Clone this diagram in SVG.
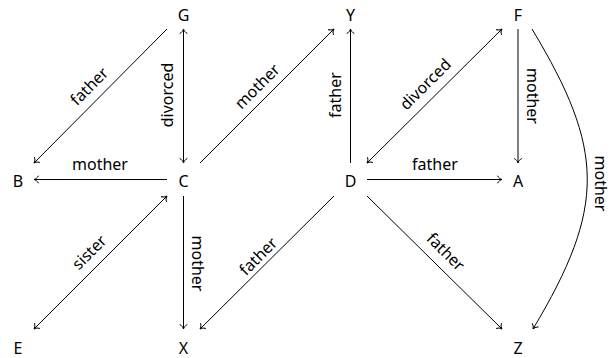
<svg xmlns="http://www.w3.org/2000/svg" width="614" height="358" viewBox="0 0 614 358">
<defs>
<style>
.n{font-family:"Noto Sans","DejaVu Sans",sans-serif;font-size:16px;fill:#000;text-anchor:middle;dominant-baseline:central}
.l{font-family:"Noto Sans","DejaVu Sans",sans-serif;font-size:16px;fill:#000;text-anchor:middle;dominant-baseline:central}
.e{fill:none;stroke:#000;stroke-width:1}
</style>
<marker id="arr" viewBox="-6 -6 12 12" markerWidth="12" markerHeight="12" refX="0" refY="0" markerUnits="userSpaceOnUse" orient="auto-start-reverse" overflow="visible">
<path d="M-4.5,-3.8 C-3.6,-1.6 -1.2,-0.3 0,0 C-1.2,0.3 -3.6,1.6 -4.5,3.8" fill="none" stroke="#000" stroke-width="1"/>
</marker>
</defs>
<g id="nodes">
<g id="G"><text class="n" x="183.5" y="14.5">G</text></g>
<g id="Y"><text class="n" x="350.5" y="14.5">Y</text></g>
<g id="F"><text class="n" x="518" y="14.5">F</text></g>
<g id="B"><text class="n" x="18" y="181">B</text></g>
<g id="C"><text class="n" x="183.5" y="181">C</text></g>
<g id="D"><text class="n" x="350.5" y="181">D</text></g>
<g id="A"><text class="n" x="518" y="181">A</text></g>
<g id="E"><text class="n" x="18" y="347.5">E</text></g>
<g id="X"><text class="n" x="183.5" y="347.5">X</text></g>
<g id="Z"><text class="n" x="518" y="347.5">Z</text></g>
</g>
<g id="connectors">
<path class="e" d="M167,29 L34,163" marker-end="url(#arr)"/>
<text class="l" transform="translate(89,86) rotate(-45)">father</text>
<path class="e" d="M183.5,29 L183.5,163" marker-start="url(#arr)" marker-end="url(#arr)"/>
<text class="l" transform="translate(167,95) rotate(-90)">divorced</text>
<path class="e" d="M167,179.5 L34,179.5" marker-end="url(#arr)"/>
<text class="l" x="100" y="164">mother</text>
<path class="e" d="M200,163 L334,29" marker-end="url(#arr)"/>
<text class="l" transform="translate(257,86) rotate(-45)">mother</text>
<path class="e" d="M350.5,163 L350.5,29" marker-end="url(#arr)"/>
<text class="l" transform="translate(335,95) rotate(-90)">father</text>
<path class="e" d="M367,163 L502,29" marker-start="url(#arr)" marker-end="url(#arr)"/>
<text class="l" transform="translate(425,84) rotate(-45)">divorced</text>
<path class="e" d="M518,29 L518,163" marker-end="url(#arr)"/>
<text class="l" transform="translate(532.5,96) rotate(90)">mother</text>
<path class="e" d="M367,179.5 L502,179.5" marker-end="url(#arr)"/>
<text class="l" x="435" y="163.5">father</text>
<path class="e" d="M532,29 C605,150 606,207 533,329" marker-end="url(#arr)"/>
<text class="l" transform="translate(601,183.5) rotate(90)">mother</text>
<path class="e" d="M167,196 L34,329" marker-start="url(#arr)" marker-end="url(#arr)"/>
<text class="l" transform="translate(89,252) rotate(-45)">sister</text>
<path class="e" d="M183.5,196 L183.5,329" marker-end="url(#arr)"/>
<text class="l" transform="translate(197.5,263.5) rotate(90)">mother</text>
<path class="e" d="M334,196 L200,329" marker-end="url(#arr)"/>
<text class="l" transform="translate(258,256) rotate(-45)">father</text>
<path class="e" d="M367,196 L502,329" marker-end="url(#arr)"/>
<text class="l" transform="translate(446,251.5) rotate(45)">father</text>
</g>
</svg>
